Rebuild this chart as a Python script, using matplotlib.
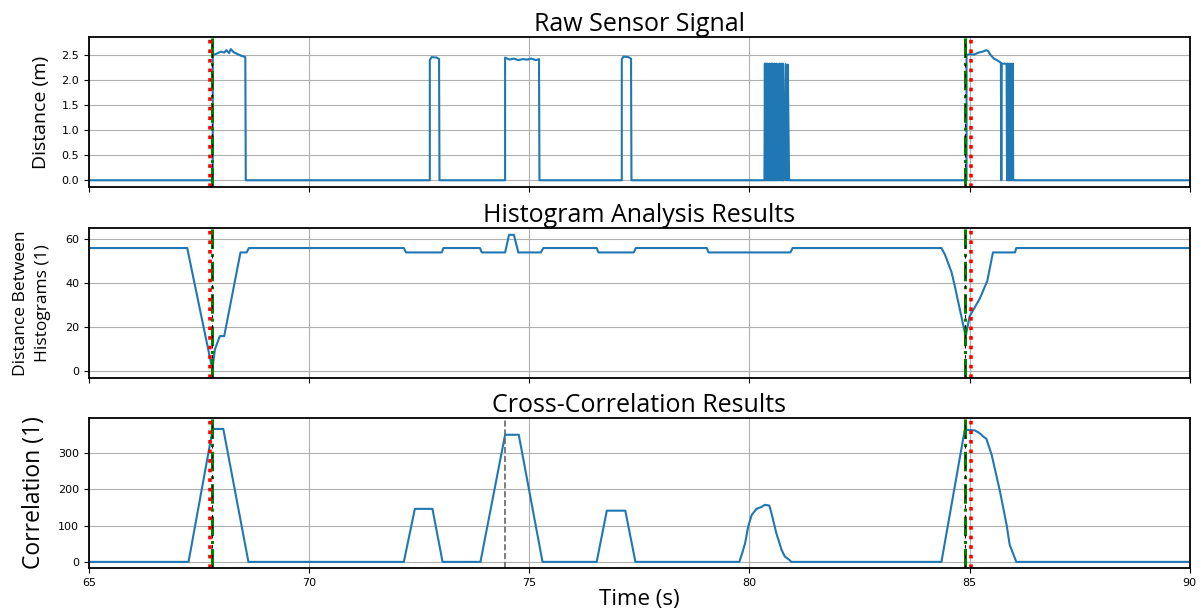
import matplotlib
matplotlib.use("Agg")
import matplotlib.pyplot as plt

# raw sensor signal (s, m)
raw_t = [65.0, 67.81, 67.81, 67.90, 68.00, 68.07, 68.12, 68.18, 68.22, 68.28, 68.35, 68.45, 68.55, 68.56,
         72.74, 72.74, 72.78, 72.90, 72.95, 72.96,
         74.45, 74.45, 74.55, 74.65, 74.75, 74.85, 74.95, 75.05, 75.15, 75.22, 75.23,
         77.10, 77.10, 77.14, 77.25, 77.31, 77.32,
         80.34, 80.35, 80.36, 80.37, 80.38, 80.39, 80.40, 80.41, 80.42, 80.45, 80.46, 80.47,
         80.48, 80.49, 80.50, 80.51, 80.52, 80.53, 80.56, 80.57, 80.58, 80.59, 80.60, 80.61,
         80.62, 80.63, 80.64, 80.65, 80.68, 80.69, 80.70, 80.71, 80.72, 80.73, 80.74, 80.75,
         80.76, 80.77, 80.78, 80.82, 80.83, 80.86, 80.87, 80.90, 80.91,
         84.93, 84.93, 85.00, 85.10, 85.20, 85.30, 85.38, 85.42, 85.48, 85.55, 85.62, 85.69, 85.71, 85.72,
         85.73, 85.80, 85.84, 85.85, 85.86, 85.87, 85.88, 85.89, 85.90, 85.91, 85.92, 85.93, 85.94, 85.95,
         85.96, 85.97, 85.98, 85.99, 86.00, 90.0]
raw_v = [0.0, 0.0, 2.50, 2.53, 2.57, 2.55, 2.60, 2.54, 2.62, 2.56, 2.53, 2.49, 2.46, 0.0,
         0.0, 2.40, 2.46, 2.45, 2.42, 0.0,
         0.0, 2.45, 2.41, 2.43, 2.40, 2.42, 2.41, 2.43, 2.40, 2.42, 0.0,
         0.0, 2.42, 2.47, 2.46, 2.43, 0.0,
         0.0, 2.33, 0.0, 2.33, 0.0, 2.32, 0.0, 2.33, 0.0, 0.0, 2.33, 0.0,
         2.32, 0.0, 2.33, 0.0, 2.33, 0.0, 0.0, 2.33, 0.0, 2.31, 0.0, 2.33,
         0.0, 2.32, 0.0, 0.0, 2.33, 0.0, 2.32, 0.0, 2.33, 0.0, 2.31, 0.0,
         2.33, 0.0, 0.0, 2.32, 0.0, 0.0, 2.31, 0.0, 0.0,
         0.0, 2.50, 2.52, 2.51, 2.55, 2.57, 2.60, 2.58, 2.50, 2.43, 2.40, 2.36, 2.35, 0.0,
         2.33, 2.33, 2.32, 0.0, 2.33, 0.0, 2.32, 0.0, 2.33, 0.0, 2.32, 0.0, 2.33, 0.0,
         2.32, 0.0, 2.33, 0.0, 0.0, 0.0]

# histogram distance (1)
hist_t = [65.0, 67.23, 67.80, 67.86, 67.97, 68.07, 68.44, 68.58, 68.63,
          72.15, 72.20, 73.01, 73.05, 73.88, 73.92, 74.45, 74.54, 74.65, 74.75, 75.26, 75.32,
          76.53, 76.57, 77.37, 77.42, 79.03, 79.07, 80.93, 80.98,
          84.36, 84.44, 84.59, 84.66, 84.91, 85.00, 85.23, 85.40, 85.53, 86.03, 86.06, 90.0]
hist_v = [56, 56, 1, 10, 16, 16, 54, 54, 56,
          56, 54, 54, 56, 56, 54, 54, 62, 62, 54, 54, 56,
          56, 54, 54, 56, 56, 54, 54, 56,
          56, 53, 45, 39, 16, 25, 33, 41, 54, 54, 56, 56]

# cross-correlation (1)
corr_t = [65.0, 67.26, 67.81, 68.05, 68.62,
          72.15, 72.40, 72.80, 73.03,
          73.89, 74.45, 74.76, 75.30,
          76.53, 76.76, 77.18, 77.41,
          79.77, 79.84, 79.90, 79.97, 80.05, 80.16, 80.27, 80.35, 80.45, 80.50, 80.61, 80.73, 80.80, 80.91, 80.95,
          84.36, 84.89, 85.12, 85.23, 85.31, 85.38, 85.50, 85.69, 85.84, 85.91, 86.06, 90.0]
corr_v = [0, 0, 366, 366, 0,
          0, 146, 146, 0,
          0, 350, 350, 0,
          0, 141, 141, 0,
          0, 26, 51, 97, 129, 146, 151, 157, 155, 134, 79, 33, 15, 5, 0,
          0, 364, 362, 354, 345, 339, 295, 194, 102, 47, 0, 0]

detected = [67.75, 85.03]     # red dotted
reference = [67.79, 84.89]    # green dash-dot
corr_marker = 74.45

plt.rcParams["font.family"] = ["DejaVu Sans"]
fig = plt.figure(figsize=(12.03, 6.08), dpi=100)
left, width, height = 0.074, 0.915, 0.247
ax1 = fig.add_axes([left, 0.692, width, height])
ax2 = fig.add_axes([left, 0.378, width, height], sharex=ax1)
ax3 = fig.add_axes([left, 0.066, width, height], sharex=ax1)

label_font = dict(family="Open Sans")

ax1.plot(raw_t, raw_v, color="#1f77b4", lw=1.5)
ax2.plot(hist_t, hist_v, color="#1f77b4", lw=1.5)
ax3.plot(corr_t, corr_v, color="#1f77b4", lw=1.5)
ax3.axvline(corr_marker, color="0.4", ls="--", lw=1.2)

for ax in (ax1, ax2, ax3):
    for x in reference:
        ax.axvline(x, color="green", ls="-.", lw=2.2)
        ax.axvline(x, color="black", ls=(0, (3, 6)), lw=0.8)
    for x in detected:
        ax.axvline(x, color="red", ls=":", lw=2.6)
    ax.grid(True, color="#b0b0b0", lw=0.8)
    ax.set_axisbelow(True)
    ax.tick_params(labelsize=8)
    for s in ax.spines.values():
        s.set_linewidth(1.3)

ax1.set_xlim(65, 90)
ax1.set_xticks([65, 70, 75, 80, 85, 90])
ax1.tick_params(labelbottom=False)
ax2.tick_params(labelbottom=False)

ax1.set_ylim(-0.14, 2.86)
ax1.set_yticks([0, 0.5, 1.0, 1.5, 2.0, 2.5])
ax2.set_ylim(-3.1, 65.1)
ax2.set_yticks([0, 20, 40, 60])
ax3.set_ylim(-16.5, 397)
ax3.set_yticks([0, 100, 200, 300])

ax1.set_title("Raw Sensor Signal", fontsize=18, pad=4, **label_font)
ax2.set_title("Histogram Analysis Results", fontsize=18, pad=4, **label_font)
ax3.set_title("Cross-Correlation Results", fontsize=18, pad=4, **label_font)

ax1.set_ylabel("Distance (m)", fontsize=14, labelpad=8, **label_font)
ax2.set_ylabel("Distance Between\nHistograms (1)", fontsize=12.5, linespacing=1.55, labelpad=10, **label_font)
ax3.set_ylabel("Correlation (1)", fontsize=16.5, labelpad=9, **label_font)
ax3.set_xlabel("Time (s)", fontsize=16, labelpad=1, **label_font)

fig.savefig("out.png", dpi=100)
